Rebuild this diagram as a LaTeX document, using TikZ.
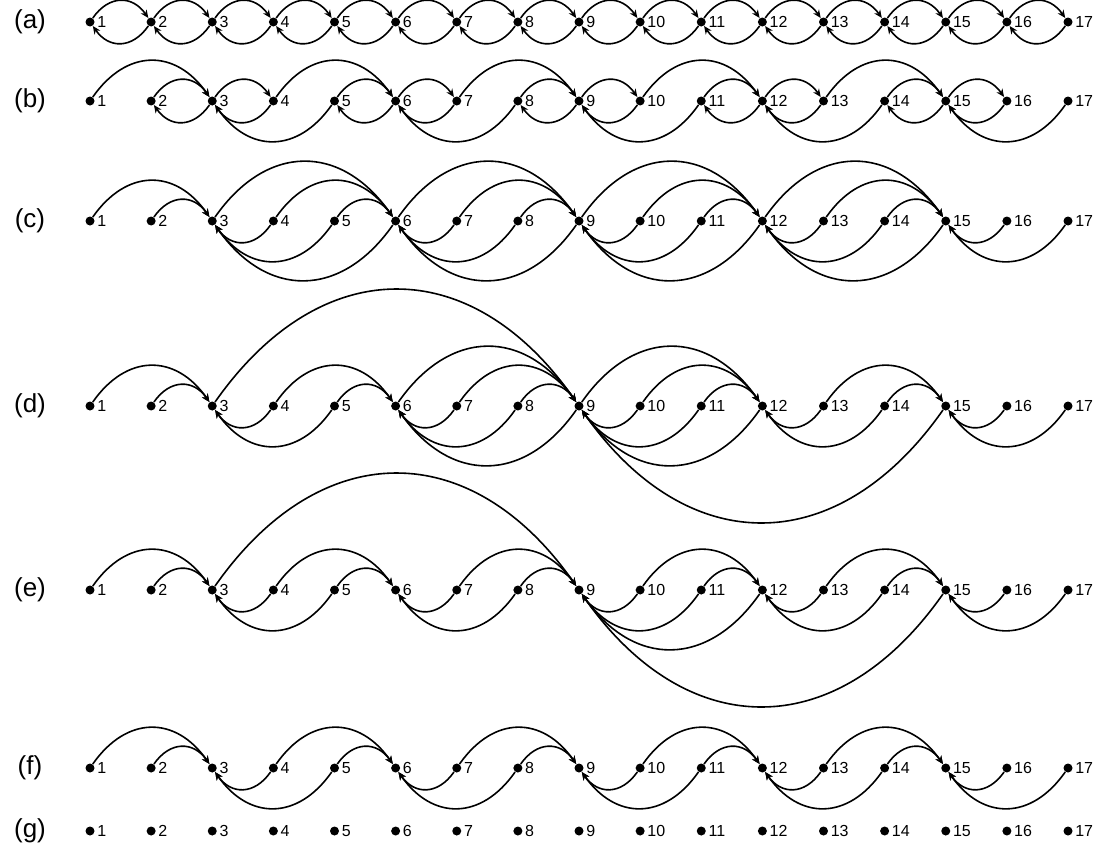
\documentclass[tikz,border=0pt]{standalone}
\usepackage{fontspec}
\setmainfont{Liberation Sans}
\usetikzlibrary{arrows.meta, positioning}
\tikzstyle{dot} = [circle, fill=black, inner sep=0pt, minimum size=4.5pt,
    label distance=3.5pt]
\tikzstyle{num} = [font=\fontsize{8}{8}\selectfont, inner sep=1pt]
\tikzstyle{rowname} = [font=\fontsize{13}{13}\selectfont]
\tikzstyle{arc} = [line width=0.8pt, -{Stealth[length=4pt,width=3.5pt]}]
\tikzstyle{over} = [arc, out=55, in=125, looseness=1.3]
\tikzstyle{under} = [arc, out=-125, in=-55, looseness=1.3]

\begin{document}
\begin{tikzpicture}[x=0.5pt, y=0.5pt]
  \useasboundingbox (0,0) rectangle (1107,-867);
  % Vertices of every row
  \foreach \r/\y in {a/22, b/101, c/221, d/406, e/590, f/768, g/831} {
    \node[rowname] at (30,-\y) {(\r)};
    \foreach \i in {1,...,17}
      \node[dot, label={[num]right:\i}] (\r\i) at ({90+(\i-1)*61.125},-\y) {};
  }

  % (a) every neighbour, both ways
  \foreach \i in {1,...,16} {
    \pgfmathtruncatemacro\j{\i+1}
    \draw[over] (a\i) to (a\j);
    \draw[under] (a\j) to (a\i);
  }

  % (b)
  \foreach \p/\q in {1/3,2/3,3/4,4/6,5/6,6/7,7/9,8/9,9/10,10/12,11/12,12/13,
      13/15,14/15,15/16}
    \draw[over] (b\p) to (b\q);
  \foreach \p/\q in {2/3,3/4,3/5,5/6,6/7,6/8,8/9,9/10,9/11,11/12,12/13,12/14,
      14/15,15/16,15/17}
    \draw[under] (b\q) to (b\p);

  % (c)
  \foreach \p/\q in {1/3,2/3,3/6,4/6,5/6,6/9,7/9,8/9,9/12,10/12,11/12,12/15,
      13/15,14/15}
    \draw[over] (c\p) to (c\q);
  \foreach \p/\q in {3/4,3/5,3/6,6/7,6/8,6/9,9/10,9/11,9/12,12/13,12/14,12/15,
      15/16,15/17}
    \draw[under] (c\q) to (c\p);

  % (d)
  \foreach \p/\q in {1/3,2/3,3/9,4/6,5/6,6/9,7/9,8/9,9/12,10/12,11/12,13/15,
      14/15}
    \draw[over] (d\p) to (d\q);
  \foreach \p/\q in {3/4,3/5,6/7,6/8,6/9,9/10,9/11,9/12,9/15,12/13,12/14,15/16,
      15/17}
    \draw[under] (d\q) to (d\p);

  % (e)
  \foreach \p/\q in {1/3,2/3,3/9,4/6,5/6,7/9,8/9,10/12,11/12,13/15,14/15}
    \draw[over] (e\p) to (e\q);
  \foreach \p/\q in {3/4,3/5,6/7,6/8,9/10,9/11,9/12,9/15,12/13,12/14,15/16,15/17}
    \draw[under] (e\q) to (e\p);

  % (f)
  \foreach \p/\q in {1/3,2/3,4/6,5/6,7/9,8/9,10/12,11/12,13/15,14/15}
    \draw[over] (f\p) to (f\q);
  \foreach \p/\q in {3/4,3/5,6/7,6/8,9/10,9/11,12/13,12/14,15/16,15/17}
    \draw[under] (f\q) to (f\p);
\end{tikzpicture}
\end{document}
